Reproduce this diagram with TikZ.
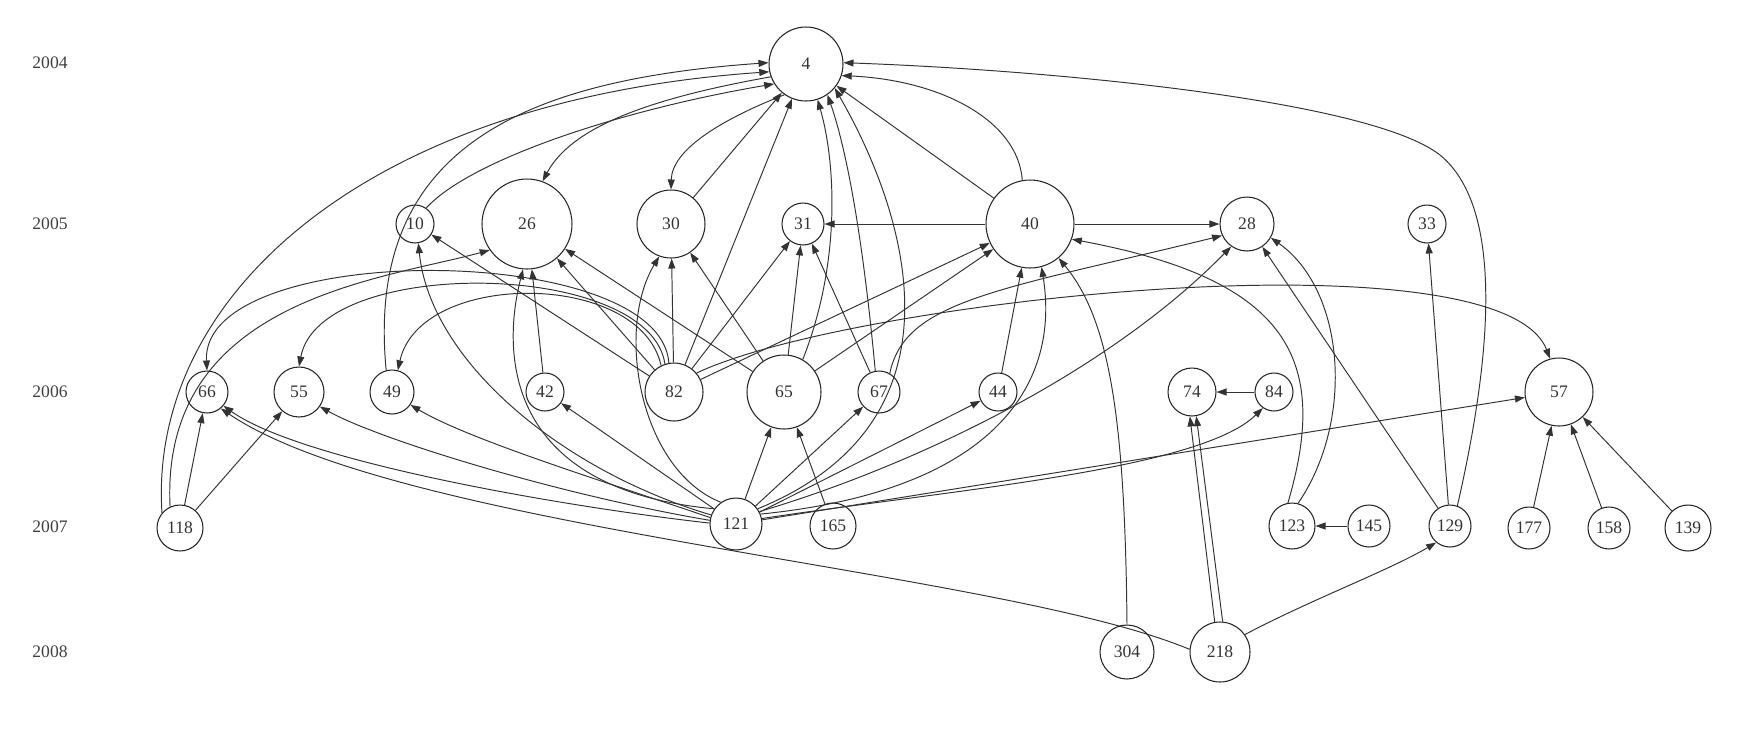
\documentclass[tikz,border=0pt]{standalone}
\usepackage{fontspec}
\setmainfont{Liberation Serif}
\usetikzlibrary{arrows.meta}
\begin{document}
\begin{tikzpicture}[x=0.02cm,y=-0.02cm,
  nd/.style={circle,draw=black!85,line width=0.6pt,inner sep=0pt,minimum size=#1*0.4mm,font=\fontsize{10}{12}\selectfont,text=black!80},
  edg/.style={draw=black!80,line width=0.55pt,-{Triangle[length=2mm,width=1.4mm]}},
  yr/.style={font=\fontsize{10}{12}\selectfont,text=black!75}]
\fill[white] (0,0) rectangle (1762,728);
\useasboundingbox (0,0) rectangle (1762,728);
% year labels
\node[yr] (y2004) at (50,63) {2004};
\node[yr] (y2005) at (50,224) {2005};
\node[yr] (y2006) at (50,392) {2006};
\node[yr] (y2007) at (50,527) {2007};
\node[yr] (y2008) at (50,652) {2008};
% nodes
\node[nd=37] (n4) at (806,64) {4};
\node[nd=19] (n10) at (415,224) {10};
\node[nd=45] (n26) at (527,224) {26};
\node[nd=34] (n30) at (671,224) {30};
\node[nd=21] (n31) at (803,224) {31};
\node[nd=44] (n40) at (1030,224) {40};
\node[nd=27] (n28) at (1247,224) {28};
\node[nd=19] (n33) at (1427,224) {33};
\node[nd=21] (n66) at (207,392) {66};
\node[nd=25] (n55) at (299,392) {55};
\node[nd=22] (n49) at (392,392) {49};
\node[nd=19] (n42) at (545,392) {42};
\node[nd=29] (n82) at (674,392) {82};
\node[nd=37] (n65) at (784,392) {65};
\node[nd=21] (n67) at (879,392) {67};
\node[nd=19] (n44) at (998,392) {44};
\node[nd=24] (n74) at (1192,392) {74};
\node[nd=19] (n84) at (1274,392) {84};
\node[nd=34] (n57) at (1559,392) {57};
\node[nd=23] (n118) at (180,528) {118};
\node[nd=26] (n121) at (736,524) {121};
\node[nd=23] (n165) at (833,526) {165};
\node[nd=23] (n123) at (1292,526) {123};
\node[nd=21] (n145) at (1369,526) {145};
\node[nd=21] (n129) at (1450,526) {129};
\node[nd=21] (n177) at (1529,528) {177};
\node[nd=21] (n158) at (1609,528) {158};
\node[nd=23] (n139) at (1688,528) {139};
\node[nd=27] (n304) at (1127,652) {304};
\node[nd=30] (n218) at (1220,652) {218};
% edges into 4
\draw[edg] (n118.140) .. controls (148,300) and (360,100) .. (n4.192);
\draw[edg] (n49.105) .. controls (365,150) and (520,80) .. (n4.178);
\draw[edg] (n10.55) .. controls (470,160) and (620,110) .. (n4.212);
\draw[edg] (n4.200) .. controls (640,100) and (570,130) .. (n26.70);
\draw[edg] (n4.235) .. controls (720,120) and (672,150) .. (n30.north);
\draw[edg] (n30) -- (n4);
\draw[edg] (n82) -- (n4);
\draw[edg] (n65.60) .. controls (842,260) and (835,160) .. (n4.-72);
\draw[edg] (n67.100) .. controls (865,260) and (850,160) .. (n4.-55);
\draw[edg] (n121.35) .. controls (975,420) and (905,210) .. (n4.-40);
\draw[edg] (n40) -- (n4);
\draw[edg] (n40.100) .. controls (1018,120) and (940,80) .. (n4.-18);
\draw[edg] (n129.70) .. controls (1500,320) and (1495,200) .. (1440,155) .. controls (1370,100) and (1050,70) .. (n4.2);
% 2005 row targets
\draw[edg] (n82) -- (n30);
\draw[edg] (n65) -- (n30);
\draw[edg] (n121.125) .. controls (640,470) and (615,330) .. (n30.-110);
\draw[edg] (n82) -- (n31);
\draw[edg] (n65) -- (n31);
\draw[edg] (n67) -- (n31);
\draw[edg] (n40) -- (n31);
\draw[edg] (n82) -- (n26);
\draw[edg] (n65) -- (n26);
\draw[edg] (n42) -- (n26);
\draw[edg] (n121.145) .. controls (510,490) and (500,360) .. (n26.-95);
\draw[edg] (n118.115) .. controls (160,300) and (380,280) .. (n26.215);
\draw[edg] (n82) -- (n10);
\draw[edg] (n121.160) .. controls (560,470) and (430,360) .. (n10.-80);
\draw[edg] (n82) -- (n40);
\draw[edg] (n65) -- (n40);
\draw[edg] (n44) -- (n40);
\draw[edg] (n121.22) .. controls (1000,490) and (1060,380) .. (n40.-75);
\draw[edg] (n304.north) .. controls (1125,420) and (1110,320) .. (n40.-50);
\draw[edg] (n123.100) .. controls (1330,360) and (1290,280) .. (n40.-20);
\draw[edg] (n40) -- (n28);
\draw[edg] (n67.60) .. controls (905,300) and (1000,290) .. (n28.-155);
\draw[edg] (n121.28) .. controls (900,470) and (1100,380) .. (n28.-125);
\draw[edg] (n123.75) .. controls (1355,420) and (1345,290) .. (n28.-30);
\draw[edg] (n129) -- (n28);
\draw[edg] (n129) -- (n33);
% 2006 row targets
\draw[edg] (n82.40) .. controls (850,300) and (1500,230) .. (n57.105);
\draw[edg] (n121) -- (n57);
\draw[edg] (n177) -- (n57);
\draw[edg] (n158) -- (n57);
\draw[edg] (n139) -- (n57);
\draw[edg] (n84) -- (n74);
\draw[edg] (n121.12) .. controls (950,490) and (1200,470) .. (n84.-125);
\draw[edg] (n218.100) -- (n74.-95);
\draw[edg] (n218.85) -- (n74.-80);
\draw[edg] (n118) -- (n66);
\draw[edg] (n118) -- (n55);
\draw[edg] (n121.178) .. controls (550,505) and (300,460) .. (n66.-40);
\draw[edg] (n121.172) .. controls (560,495) and (380,440) .. (n55.-35);
\draw[edg] (n121.166) .. controls (600,480) and (470,440) .. (n49.-35);
\draw[edg] (n218.175) .. controls (1000,570) and (400,530) .. (n66.-50);
\draw[edg] (n121) -- (n42);
\draw[edg] (n121) -- (n65);
\draw[edg] (n165) -- (n65);
\draw[edg] (n121) -- (n67);
\draw[edg] (n121) -- (n44);
\draw[edg] (n82.100) .. controls (660,240) and (200,240) .. (n66.north);
\draw[edg] (n82.108) .. controls (650,260) and (320,255) .. (n55.north);
\draw[edg] (n82.116) .. controls (640,270) and (420,270) .. (n49.75);
% 2007 row targets
\draw[edg] (n145) -- (n123);
\draw[edg] (n218.35) .. controls (1310,600) and (1390,570) .. (n129.-130);
\end{tikzpicture}
\end{document}
